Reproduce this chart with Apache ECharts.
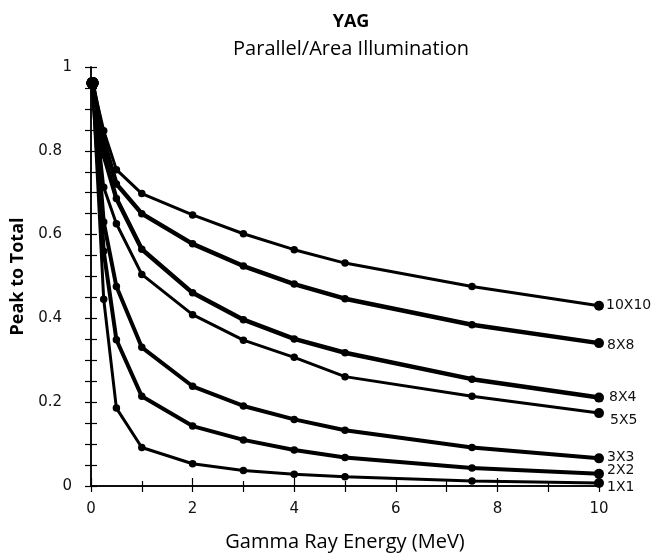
<!DOCTYPE html>
<html>
<head>
<meta charset="utf-8">
<script src="https://cdn.jsdelivr.net/npm/echarts@6/dist/echarts.min.js"></script>
<style>html,body{margin:0;padding:0;background:#fff}#c{width:658px;height:557px}</style>
</head>
<body>
<div id="c"></div>
<script>
// Data
var energies = [0.03, 0.25, 0.5, 1, 2, 3, 4, 5, 7.5, 10];
var seriesNames = ['10X10', '8X8', '8X4', '5X5', '3X3', '2X2', '1X1'];
var s10x10 = [0.962, 0.848, 0.755, 0.698, 0.647, 0.602, 0.564, 0.532, 0.476, 0.430];
var s8x8   = [0.962, 0.825, 0.721, 0.650, 0.578, 0.525, 0.482, 0.447, 0.385, 0.341];
var s8x4   = [0.962, 0.790, 0.686, 0.565, 0.461, 0.397, 0.351, 0.318, 0.255, 0.211];
var s5x5   = [0.962, 0.713, 0.626, 0.505, 0.409, 0.348, 0.307, 0.261, 0.214, 0.174];
var s3x3   = [0.962, 0.630, 0.476, 0.331, 0.238, 0.191, 0.159, 0.133, 0.092, 0.066];
var s2x2   = [0.962, 0.560, 0.349, 0.214, 0.143, 0.110, 0.086, 0.068, 0.043, 0.029];
var s1x1   = [0.962, 0.446, 0.186, 0.092, 0.053, 0.037, 0.028, 0.022, 0.012, 0.007];
var xTicks = [0, 2, 4, 6, 8, 10];
var yTicks = [0, 0.2, 0.4, 0.6, 0.8, 1];

var allValues = [s10x10, s8x8, s8x4, s5x5, s3x3, s2x2, s1x1];
var widths = [3, 4.5, 4.5, 3, 4, 4, 3];
var labelOffsets = [[0, 0], [1, 2], [3, 0], [4, 7], [1, -1], [1, -3], [1, 4]];

var chart = echarts.init(document.getElementById('c'), null, {renderer: 'canvas'});

var series = seriesNames.map(function (name, i) {
  var vals = allValues[i];
  return {
    name: name,
    type: 'line',
    xAxisIndex: 0,
    yAxisIndex: 0,
    data: energies.map(function (e, j) { return [e, vals[j]]; }),
    symbol: 'circle',
    symbolSize: function (v, p) {
      if (p.dataIndex === 0) return 12;
      if (p.dataIndex === energies.length - 1) return 10;
      return 7.5;
    },
    showSymbol: true,
    lineStyle: {color: '#000', width: widths[i]},
    itemStyle: {color: '#000'},
    emphasis: {disabled: true},
    animation: false,
    endLabel: {
      show: true,
      formatter: name,
      color: '#111',
      fontFamily: 'DejaVu Sans',
      fontSize: 14,
      distance: 7,
      offset: labelOffsets[i]
    }
  };
});

var axisLineStyle = {color: '#000', width: 1.5};

chart.setOption({
  backgroundColor: '#fff',
  animation: false,
  title: [
    {text: 'YAG', left: 346, top: 8, textAlign: 'center',
     textStyle: {fontFamily: 'Open Sans', fontWeight: 'bold', fontSize: 18, color: '#000'}},
    {text: 'Parallel/Area Illumination', left: 346, top: 34, textAlign: 'center',
     textStyle: {fontFamily: 'Open Sans', fontWeight: 'normal', fontSize: 20, color: '#000'}}
  ],
  grid: {left: 91, right: 59, top: 67, bottom: 70, containLabel: false},
  xAxis: [
    {
      type: 'value', min: 0, max: 10, interval: 2, position: 'bottom',
      name: 'Gamma Ray Energy (MeV)', nameLocation: 'middle', nameGap: 46,
      nameTextStyle: {fontFamily: 'Open Sans', fontSize: 20, color: '#000'},
      axisLine: {show: true, lineStyle: axisLineStyle},
      axisTick: {show: true, inside: true, length: 8, lineStyle: {color: '#000', width: 1.2}},
      minorTick: {show: true, splitNumber: 2, length: 5, lineStyle: {color: '#000', width: 1.2}},
      splitLine: {show: false},
      axisLabel: {fontFamily: 'DejaVu Sans', fontSize: 15, color: '#111', margin: 16,
        formatter: function (v) { return xTicks.indexOf(v) >= 0 ? String(v) : ''; }}
    },
    {
      type: 'value', min: 0, max: 10, interval: 2, position: 'top',
      axisLine: {show: true, lineStyle: axisLineStyle},
      axisTick: {show: true, inside: true, length: 6, lineStyle: {color: '#000', width: 1.2}},
      minorTick: {show: true, splitNumber: 2, length: 6, lineStyle: {color: '#000', width: 1.2}},
      splitLine: {show: false},
      axisLabel: {show: false}
    }
  ],
  yAxis: [
    {
      type: 'value', min: 0, max: 1, interval: 0.2, position: 'left',
      name: 'Peak to Total', nameLocation: 'middle', nameGap: 55, nameRotate: 90,
      nameTextStyle: {fontFamily: 'Open Sans', fontWeight: 'bold', fontSize: 18, color: '#000'},
      axisLine: {show: true, lineStyle: axisLineStyle},
      axisTick: {show: true, inside: true, length: 6, lineStyle: {color: '#000', width: 1.2}},
      minorTick: {show: true, splitNumber: 4, length: 6, lineStyle: {color: '#000', width: 1.2}},
      splitLine: {show: false},
      axisLabel: {
        fontFamily: 'DejaVu Sans', fontSize: 15, color: '#111', margin: 19,
        formatter: function (v) {
          var r = Math.round(v * 10) / 10;
          var t = String(r);
          if (yTicks.indexOf(r) < 0) return '';
          return (r === 0 || r === 1) ? '{a|' + t + '}' : '{b|' + t + '}';
        },
        rich: {
          a: {fontFamily: 'DejaVu Sans', fontSize: 15, color: '#111'},
          b: {fontFamily: 'DejaVu Sans', fontSize: 15, color: '#111', padding: [0, 10, 0, 0]}
        }
      }
    },
    {
      type: 'value', min: 0, max: 1, interval: 0.2, position: 'right',
      axisLine: {show: true, lineStyle: axisLineStyle},
      axisTick: {show: true, inside: true, length: 6, lineStyle: {color: '#000', width: 1.2}},
      minorTick: {show: true, splitNumber: 4, length: 6, lineStyle: {color: '#000', width: 1.2}},
      splitLine: {show: false},
      axisLabel: {show: false}
    }
  ],
  series: series
});
</script>
</body>
</html>
